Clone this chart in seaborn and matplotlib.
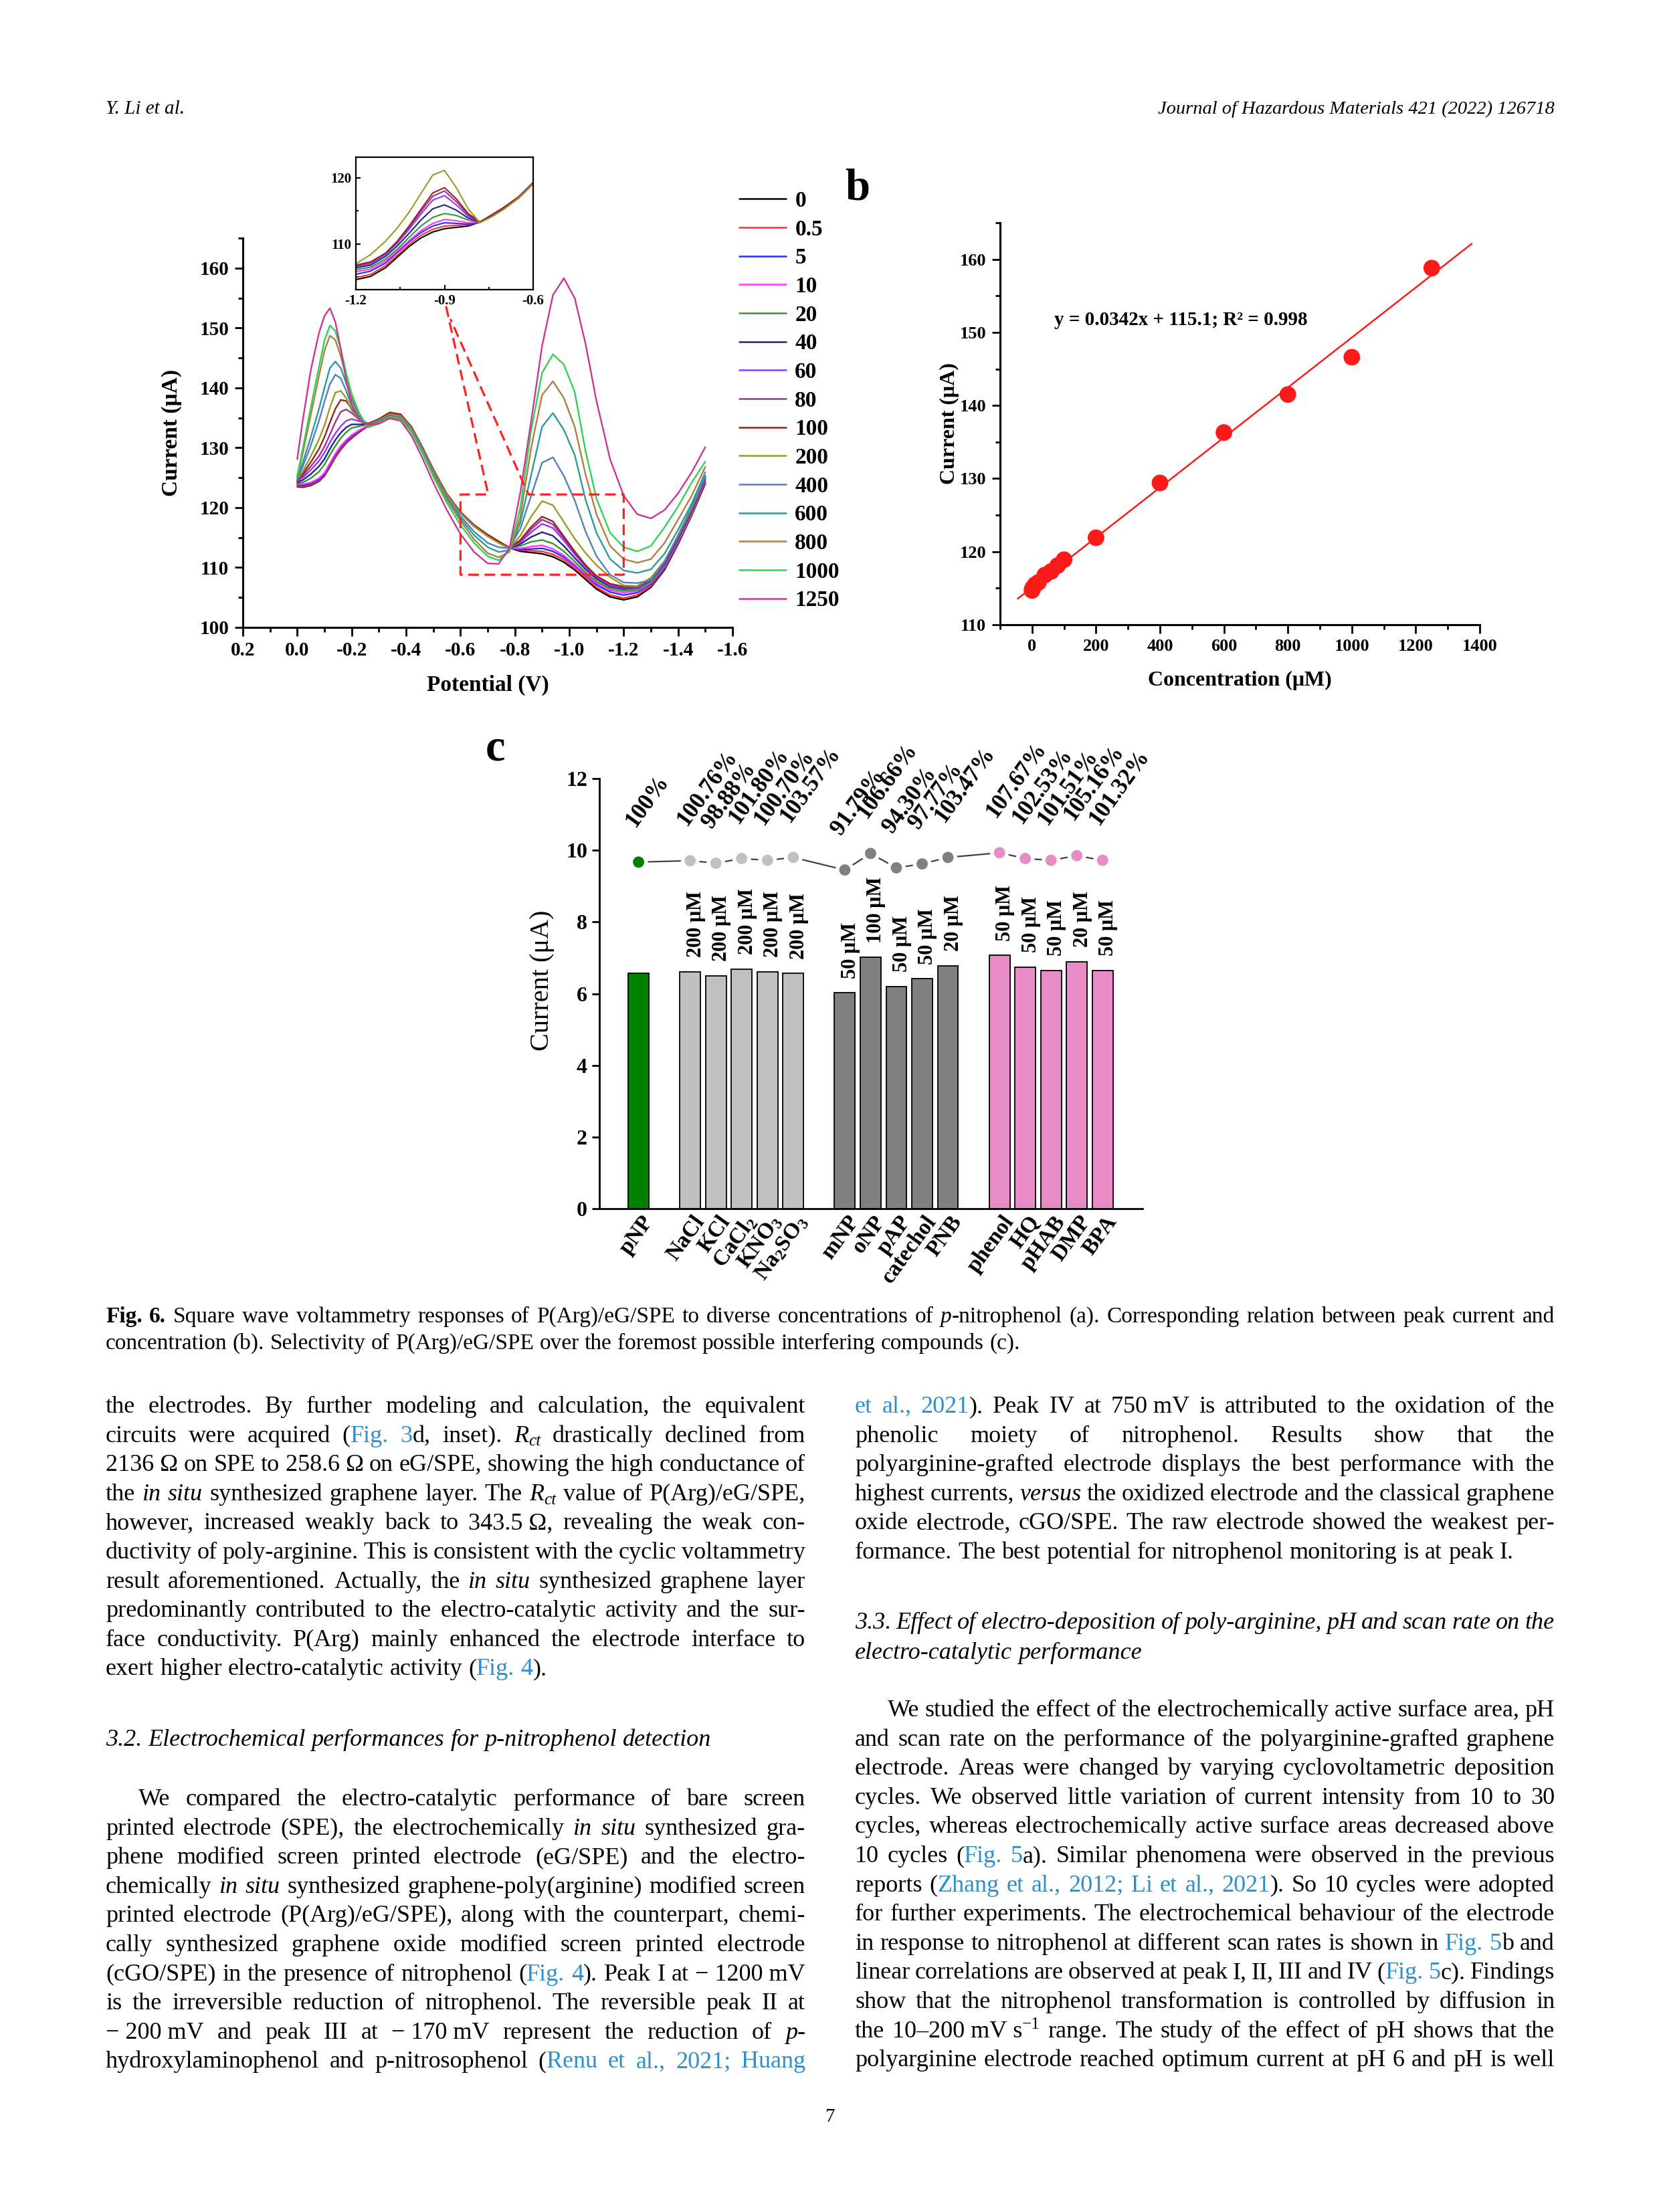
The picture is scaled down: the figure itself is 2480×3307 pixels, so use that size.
import re
import matplotlib
matplotlib.use('Agg')
import matplotlib.pyplot as plt
import matplotlib.transforms as mtransforms
from matplotlib.lines import Line2D
from matplotlib.ticker import MultipleLocator, FixedLocator
import pandas as pd
import seaborn as sns

# ---------------- panel a: SWV curves ----------------
potential = [0.0, -0.02, -0.05, -0.08, -0.10, -0.12, -0.14, -0.16, -0.18, -0.20,
             -0.23, -0.26, -0.30, -0.34, -0.38, -0.42, -0.46, -0.50, -0.55, -0.60,
             -0.65, -0.70, -0.74, -0.78, -0.82, -0.86, -0.90, -0.94, -0.98, -1.02,
             -1.06, -1.10, -1.15, -1.20, -1.25, -1.30, -1.35, -1.40, -1.45, -1.50]

swv_0 = [123.5, 123.4, 123.7, 124.4, 125.3, 126.8, 128.4, 129.7, 130.8, 131.6,
         132.7, 133.6, 134.7, 135.8, 135.5, 133.4, 130.0, 126.3, 122.2, 119.2,
         117.0, 115.4, 114.3, 113.3, 112.7, 112.5, 112.3, 111.8, 110.9, 109.6,
         108.0, 106.4, 105.1, 104.6, 105.1, 106.7, 109.6, 113.9, 118.7, 124.0]
swv_0_5 = [123.6, 123.5, 123.8, 124.5, 125.4, 126.9, 128.5, 129.8, 130.9, 131.7,
           132.8, 133.6, 134.7, 135.7, 135.4, 133.4, 130.0, 126.3, 122.2, 119.2,
           117.0, 115.4, 114.3, 113.3, 112.9, 112.8, 112.7, 112.2, 111.3, 109.9,
           108.3, 106.7, 105.4, 104.9, 105.4, 106.9, 109.8, 114.0, 118.8, 124.1]
swv_5 = [123.8, 123.7, 124.0, 124.7, 125.6, 127.2, 128.8, 130.1, 131.1, 131.9,
         132.9, 133.7, 134.7, 135.7, 135.4, 133.4, 130.0, 126.3, 122.2, 119.2,
         117.0, 115.4, 114.3, 113.3, 113.0, 113.1, 113.2, 112.7, 111.7, 110.3,
         108.7, 107.1, 105.9, 105.4, 105.8, 107.2, 110.0, 114.2, 118.9, 124.3]
swv_10 = [123.9, 123.9, 124.2, 124.9, 125.8, 127.4, 129.0, 130.3, 131.3, 132.1,
          133.0, 133.7, 134.7, 135.7, 135.4, 133.4, 130.0, 126.3, 122.2, 119.2,
          117.0, 115.4, 114.3, 113.3, 113.2, 113.5, 113.7, 113.1, 112.0, 110.5,
          108.9, 107.4, 106.2, 105.8, 106.1, 107.4, 110.2, 114.4, 119.0, 124.5]
swv_20 = [124.0, 124.2, 124.9, 126.0, 127.2, 128.8, 130.3, 131.6, 132.6, 133.3,
          133.6, 133.9, 134.7, 135.6, 135.3, 133.3, 129.9, 126.2, 122.1, 119.1,
          116.9, 115.3, 114.2, 113.3, 113.6, 114.3, 114.6, 114.0, 112.7, 111.0,
          109.2, 107.7, 106.5, 106.1, 106.3, 107.6, 110.4, 114.6, 119.2, 124.7]
swv_40 = [124.2, 124.6, 125.6, 126.9, 128.1, 129.8, 131.3, 132.5, 133.4, 133.9,
          133.9, 134.0, 134.7, 135.6, 135.3, 133.3, 129.9, 126.2, 122.1, 119.1,
          116.9, 115.3, 114.2, 113.3, 113.9, 115.1, 115.9, 115.3, 113.6, 111.6,
          109.7, 108.1, 106.8, 106.4, 106.6, 107.9, 110.6, 114.8, 119.4, 124.8]
swv_60 = [124.4, 125.0, 126.3, 127.8, 129.2, 130.9, 132.4, 133.6, 134.5, 134.8,
          134.4, 134.0, 134.7, 135.6, 135.3, 133.3, 129.9, 126.2, 122.1, 119.1,
          116.9, 115.3, 114.2, 113.3, 114.2, 115.9, 117.3, 116.6, 114.5, 112.2,
          110.1, 108.4, 107.0, 106.6, 106.7, 108.0, 110.7, 114.9, 119.5, 125.0]
swv_80 = [124.5, 125.3, 126.9, 128.6, 130.2, 132.2, 134.3, 136.0, 136.4, 135.8,
          134.6, 134.0, 134.7, 135.6, 135.3, 133.4, 130.0, 126.3, 122.2, 119.2,
          117.0, 115.4, 114.3, 113.3, 114.4, 116.4, 118.0, 117.2, 114.9, 112.5,
          110.3, 108.5, 107.2, 106.7, 106.8, 108.1, 110.8, 115.0, 119.6, 125.1]
swv_100 = [124.6, 125.6, 127.6, 129.8, 131.8, 134.2, 136.5, 138.0, 137.8, 136.5,
           134.8, 134.0, 134.8, 135.9, 135.6, 133.5, 130.1, 126.4, 122.3, 119.3,
           117.1, 115.5, 114.4, 113.3, 114.6, 116.8, 118.5, 117.7, 115.2, 112.7,
           110.4, 108.6, 107.3, 106.8, 106.9, 108.2, 110.9, 115.1, 119.7, 125.2]
swv_200 = [124.7, 126.0, 128.6, 131.4, 133.7, 136.7, 139.2, 139.5, 138.3, 136.3,
           134.6, 133.8, 134.6, 135.6, 135.3, 133.3, 129.9, 126.2, 122.1, 119.1,
           116.9, 115.2, 114.1, 113.2, 115.3, 118.5, 121.1, 120.4, 117.6, 114.8,
           112.4, 110.4, 108.4, 107.0, 106.9, 108.3, 111.1, 115.3, 119.9, 125.2]
swv_400 = [124.8, 126.8, 130.4, 134.5, 137.7, 140.6, 142.2, 141.6, 139.5, 137.0,
           134.8, 133.7, 134.5, 135.4, 135.1, 133.1, 129.8, 126.0, 121.8, 118.6,
           116.0, 114.1, 113.4, 113.2, 116.5, 122.0, 127.5, 128.4, 125.3, 121.2,
           116.0, 111.9, 108.8, 107.5, 107.4, 107.9, 111.0, 115.4, 120.2, 125.3]
swv_600 = [125.0, 127.5, 131.8, 136.5, 140.0, 143.3, 144.4, 143.3, 140.8, 138.0,
           135.2, 133.6, 134.4, 135.3, 135.0, 133.0, 129.6, 125.8, 121.5, 118.2,
           115.4, 113.4, 112.6, 112.9, 117.5, 125.5, 133.5, 135.8, 133.0, 128.8,
           121.3, 115.8, 111.4, 109.5, 109.1, 109.7, 112.3, 116.3, 120.7, 125.9]
swv_800 = [125.2, 129.0, 135.5, 142.0, 146.2, 148.7, 148.0, 145.3, 141.8, 138.5,
           135.5, 133.5, 134.2, 135.2, 134.9, 132.8, 129.4, 125.6, 121.3, 117.8,
           114.7, 112.4, 111.7, 112.6, 118.5, 130.0, 138.8, 141.1, 138.3, 133.5,
           125.5, 118.9, 113.6, 111.4, 110.8, 111.4, 114.1, 118.0, 122.0, 126.8]
swv_1000 = [125.3, 129.8, 136.8, 143.5, 147.9, 150.4, 149.5, 146.5, 142.5, 139.0,
            135.6, 133.4, 134.0, 135.0, 134.7, 132.6, 129.1, 125.2, 120.8, 117.1,
            114.1, 111.9, 111.2, 112.8, 120.0, 133.0, 142.5, 145.6, 143.9, 139.3,
            129.4, 121.5, 115.8, 113.4, 112.7, 113.6, 116.7, 120.2, 124.2, 127.7]
swv_1250 = [128.1, 134.5, 143.0, 149.2, 152.0, 153.3, 151.0, 146.5, 141.2, 137.3,
            134.6, 133.8, 134.0, 134.9, 134.5, 132.0, 128.3, 124.2, 119.6, 115.6,
            112.6, 110.7, 110.6, 113.2, 122.5, 134.5, 147.0, 155.5, 158.3, 155.0,
            147.3, 137.8, 128.1, 122.0, 118.9, 118.2, 119.6, 122.4, 125.9, 130.1]

conc_labels = ['0', '0.5', '5', '10', '20', '40', '60', '80', '100', '200',
               '400', '600', '800', '1000', '1250']
curve_colors = ['#000000', '#ff2a2a', '#2a2aff', '#ff33ff', '#2e9a2e', '#22228f',
                '#9b33ff', '#9a339a', '#962222', '#9a9a22', '#4f80c2', '#2a9a9a',
                '#b07d45', '#33d055', '#cc3399']

# ---------------- panel b: calibration ----------------
conc_b = [0, 0.5, 5, 10, 20, 40, 60, 80, 100, 200, 400, 600, 800, 1000, 1250]
peak_b = [114.7, 114.9, 115.2, 115.5, 115.8, 116.8, 117.3, 118.1, 118.9, 121.9,
          129.4, 136.3, 141.5, 146.6, 158.8]
fit_slope, fit_intercept = 0.0342, 115.1
fit_range = [-45, 1375]

# ---------------- panel c: selectivity ----------------
names_c = ['pNP', 'NaCl', 'KCl', 'CaCl$_2$', 'KNO$_3$', 'Na$_2$SO$_3$',
           'mNP', 'oNP', 'pAP', 'catechol', 'PNB',
           'phenol', 'HQ', 'pHAB', 'DMP', 'BPA']
slot_c = [0, 2, 3, 4, 5, 6, 8, 9, 10, 11, 12, 14, 15, 16, 17, 18]
group_c = ['target'] + ['salt'] * 5 + ['nitro'] * 5 + ['phenolic'] * 5
current_c = [6.56, 6.61, 6.50, 6.69, 6.61, 6.56, 6.02, 7.01, 6.20, 6.42, 6.78,
             7.07, 6.74, 6.65, 6.89, 6.65]
ratio_pt_c = [9.67, 9.71, 9.64, 9.77, 9.72, 9.80, 9.45, 9.91, 9.51, 9.62, 9.80,
              9.93, 9.77, 9.72, 9.85, 9.72]
pct_c = ['100%', '100.76%', '98.88%', '101.80%', '100.70%', '103.57%',
         '91.79%', '106.66%', '94.30%', '97.77%', '103.47%',
         '107.67%', '102.53%', '101.51%', '105.16%', '101.32%']
dose_c = ['', '200 μM', '200 μM', '200 μM', '200 μM', '200 μM',
          '50 μM', '100 μM', '50 μM', '50 μM', '20 μM',
          '50 μM', '50 μM', '50 μM', '20 μM', '50 μM']
group_colors = {'target': '#008000', 'salt': '#c0c0c0', 'nitro': '#808080',
                'phenolic': '#e88cc5'}

# ---------------- page text ----------------
header_left = 'Y. Li et al.'
header_right = 'Journal of Hazardous Materials 421 (2022) 126718'
caption_lines = [
    '#Fig. 6.# Square wave voltammetry responses of P(Arg)/eG/SPE to diverse concentrations of *p*-nitrophenol (a). Corresponding relation between peak current and',
    'concentration (b). Selectivity of P(Arg)/eG/SPE over the foremost possible interfering compounds (c).',
]
left_block = [
    'the electrodes. By further modeling and calculation, the equivalent',
    'circuits were acquired ([Fig. 3]d, inset). *R_{ct}* drastically declined from',
    '2136\u00a0Ω on SPE to 258.6\u00a0Ω on eG/SPE, showing the high conductance of',
    'the *in situ* synthesized graphene layer. The *R_{ct}* value of P(Arg)/eG/SPE,',
    'however, increased weakly back to 343.5\u00a0Ω, revealing the weak con-',
    'ductivity of poly-arginine. This is consistent with the cyclic voltammetry',
    'result aforementioned. Actually, the *in situ* synthesized graphene layer',
    'predominantly contributed to the electro-catalytic activity and the sur-',
    'face conductivity. P(Arg) mainly enhanced the electrode interface to',
    'exert higher electro-catalytic activity ([Fig. 4]).',
]
left_heading = '*3.2. Electrochemical performances for p-nitrophenol detection*'
left_para = [
    'We compared the electro-catalytic performance of bare screen',
    'printed electrode (SPE), the electrochemically *in situ* synthesized gra-',
    'phene modified screen printed electrode (eG/SPE) and the electro-',
    'chemically *in situ* synthesized graphene-poly(arginine) modified screen',
    'printed electrode (P(Arg)/eG/SPE), along with the counterpart, chemi-',
    'cally synthesized graphene oxide modified screen printed electrode',
    '(cGO/SPE) in the presence of nitrophenol ([Fig. 4]). Peak I at −\u00a01200\u00a0mV',
    'is the irreversible reduction of nitrophenol. The reversible peak II at',
    '−\u00a0200\u00a0mV and peak III at −\u00a0170\u00a0mV represent the reduction of *p*-',
    'hydroxylaminophenol and p-nitrosophenol ([Renu et al., 2021; Huang]',
]
right_block = [
    '[et al., 2021]). Peak IV at 750\u00a0mV is attributed to the oxidation of the',
    'phenolic moiety of nitrophenol. Results show that the',
    'polyarginine-grafted electrode displays the best performance with the',
    'highest currents, *versus* the oxidized electrode and the classical graphene',
    'oxide electrode, cGO/SPE. The raw electrode showed the weakest per-',
    'formance. The best potential for nitrophenol monitoring is at peak I.',
]
right_heading = [
    '*3.3. Effect of electro-deposition of poly-arginine, pH and scan rate on the*',
    '*electro-catalytic performance*',
]
right_para = [
    'We studied the effect of the electrochemically active surface area, pH',
    'and scan rate on the performance of the polyarginine-grafted graphene',
    'electrode. Areas were changed by varying cyclovoltametric deposition',
    'cycles. We observed little variation of current intensity from 10 to 30',
    'cycles, whereas electrochemically active surface areas decreased above',
    '10 cycles ([Fig. 5]a). Similar phenomena were observed in the previous',
    'reports ([Zhang et al., 2012; Li et al., 2021]). So 10 cycles were adopted',
    'for further experiments. The electrochemical behaviour of the electrode',
    'in response to nitrophenol at different scan rates is shown in [Fig. 5]b and',
    'linear correlations are observed at peak I, II, III and IV ([Fig. 5]c). Findings',
    'show that the nitrophenol transformation is controlled by diffusion in',
    'the 10–200\u00a0mV\u00a0s^{−1} range. The study of the effect of pH shows that the',
    'polyarginine electrode reached optimum current at pH 6 and pH is well',
]

# ---------------- style ----------------
sns.set_style('ticks', {'axes.edgecolor': 'black', 'xtick.color': 'black',
                        'ytick.color': 'black', 'text.color': 'black',
                        'axes.labelcolor': 'black'})
SERIF = ['Liberation Serif', 'DejaVu Serif']
plt.rcParams['font.family'] = SERIF
plt.rcParams['font.weight'] = 'bold'
plt.rcParams['axes.labelweight'] = 'bold'
plt.rcParams['axes.unicode_minus'] = False
plt.rcParams['mathtext.fontset'] = 'custom'
plt.rcParams['mathtext.rm'] = 'Liberation Serif:bold'
plt.rcParams['mathtext.it'] = 'Liberation Serif:bold:italic'
plt.rcParams['mathtext.bf'] = 'Liberation Serif:bold'

W, H = 2480, 3307
fig = plt.figure(figsize=(W / 100, H / 100), dpi=100)
fig.patch.set_facecolor('white')


def fbox(left, top, right, bottom):
    return [left / W, 1 - bottom / H, (right - left) / W, (bottom - top) / H]


def style_axes(ax, lw=2.2):
    for s in ['top', 'right']:
        ax.spines[s].set_visible(False)
    for s in ['left', 'bottom']:
        ax.spines[s].set_linewidth(lw)


# ---------------- panel a ----------------
ax_a = fig.add_axes(fbox(363, 356, 1095, 938))
curves = [swv_0, swv_0_5, swv_5, swv_10, swv_20, swv_40, swv_60, swv_80, swv_100,
          swv_200, swv_400, swv_600, swv_800, swv_1000, swv_1250]
rows = []
for lab, ys in zip(conc_labels, curves):
    for v, c in zip(potential, ys):
        rows.append((lab, v, c))
df_a = pd.DataFrame(rows, columns=['conc', 'potential', 'current'])
pal_a = dict(zip(conc_labels, curve_colors))

sns.lineplot(data=df_a, x='potential', y='current', hue='conc', hue_order=conc_labels,
             palette=pal_a, estimator=None, sort=False, lw=1.7, legend=False, ax=ax_a)
ax_a.set_xlim(0.2, -1.6)
ax_a.set_ylim(100, 165)
a_xticks = [0.2, 0.0, -0.2, -0.4, -0.6, -0.8, -1.0, -1.2, -1.4, -1.6]
ax_a.xaxis.set_major_locator(FixedLocator(a_xticks))
ax_a.set_xticklabels([f'{v:.1f}' for v in a_xticks])
ax_a.xaxis.set_minor_locator(MultipleLocator(0.1))
ax_a.yaxis.set_major_locator(MultipleLocator(10))
ax_a.yaxis.set_minor_locator(MultipleLocator(5))
ax_a.tick_params(which='major', direction='out', length=9, width=2, labelsize=21, pad=6)
ax_a.tick_params(which='minor', direction='out', length=5, width=2)
style_axes(ax_a)
ax_a.set_xlabel('Potential (V)', fontsize=24)
ax_a.set_ylabel('Current (μA)', fontsize=24)
ax_a.xaxis.set_label_coords(0.5, -0.122)
ax_a.yaxis.set_label_coords(-0.125, 0.5)

# zoom box and connector (dashed red)
zoom_path_x = [-0.547, -0.702, -0.6, -0.6, -1.2, -1.2, -0.85, -0.563]
zoom_path_y = [153.6, 122.2, 122.2, 108.8, 108.8, 122.2, 122.2, 151.5]
ax_a.plot(zoom_path_x, zoom_path_y, color='#ff2020', lw=2.3, ls=(0, (5, 2.6)),
          clip_on=False, zorder=5)

# inset
ax_in = fig.add_axes(fbox(532, 235, 797, 433))
ax_in.set_facecolor('white')
df_in = df_a[df_a['conc'].isin(conc_labels[:10])]
sns.lineplot(data=df_in, x='potential', y='current', hue='conc', hue_order=conc_labels[:10],
             palette=pal_a, estimator=None, sort=False, lw=1.5, legend=False, ax=ax_in)
ax_in.set_xlim(-1.2, -0.6)
ax_in.set_ylim(103.1, 123.1)
in_xticks = [-1.2, -0.9, -0.6]
ax_in.xaxis.set_major_locator(FixedLocator(in_xticks))
ax_in.set_xticklabels([f'{v:.1f}' for v in in_xticks])
ax_in.xaxis.set_minor_locator(FixedLocator([-1.05, -0.75]))
ax_in.yaxis.set_major_locator(FixedLocator([110, 120]))
ax_in.yaxis.set_minor_locator(FixedLocator([105, 115]))
ax_in.tick_params(which='major', direction='in', length=5, width=1.5, labelsize=15, pad=5)
ax_in.tick_params(which='minor', direction='in', length=3, width=1.5)
for s in ax_in.spines.values():
    s.set_linewidth(1.6)
ax_in.set_xlabel('')
ax_in.set_ylabel('')

handles = [Line2D([], [], color=c, lw=1.8) for c in curve_colors]
fig.legend(handles, conc_labels, loc='upper left', bbox_to_anchor=(1105 / W, 1 - 285 / H),
           frameon=False, prop={'family': SERIF, 'size': 24, 'weight': 'bold'},
           handlelength=2.1, handletextpad=0.4, labelspacing=0.35,
           borderpad=0, borderaxespad=0)

# ---------------- panel b ----------------
ax_b = fig.add_axes(fbox(1495, 333, 2212, 934))
sns.scatterplot(x=conc_b, y=peak_b, color='#ff1a1a', s=320, edgecolor='none',
                ax=ax_b, zorder=3)
fit_y = [fit_slope * x + fit_intercept for x in fit_range]
sns.lineplot(x=fit_range, y=fit_y, color='#ff1a1a', lw=1.8, ax=ax_b)
ax_b.set_xlim(-100, 1400)
ax_b.set_ylim(110, 165)
ax_b.xaxis.set_major_locator(MultipleLocator(200))
ax_b.xaxis.set_minor_locator(MultipleLocator(100))
ax_b.yaxis.set_major_locator(MultipleLocator(10))
ax_b.yaxis.set_minor_locator(MultipleLocator(5))
ax_b.tick_params(which='major', direction='out', length=9, width=2, labelsize=19, pad=6)
ax_b.tick_params(which='minor', direction='out', length=5, width=2)
style_axes(ax_b)
ax_b.set_xlabel('Concentration (μM)', fontsize=23)
ax_b.set_ylabel('Current (μA)', fontsize=23)
ax_b.xaxis.set_label_coords(0.5, -0.115)
ax_b.yaxis.set_label_coords(-0.085, 0.5)
ax_b.text(69, 151.7, 'y = 0.0342x + 115.1; R² = 0.998', fontsize=21,
          ha='left', va='center')

# ---------------- panel c ----------------
ax_c = fig.add_axes(fbox(896, 1164, 1708, 1807))
df_c = pd.DataFrame({'slot': slot_c, 'name': names_c, 'group': group_c,
                     'current': current_c, 'ratio': ratio_pt_c})
bar_pal = {n: group_colors[g] for n, g in zip(names_c, group_c)}
sns.barplot(data=df_c, x='slot', y='current', hue='name', palette=bar_pal,
            native_scale=True, saturation=1, edgecolor='black', linewidth=1.3,
            legend=False, ax=ax_c)
sns.lineplot(data=df_c, x='slot', y='ratio', color='#404040', lw=1.6, ax=ax_c, zorder=3)
sns.scatterplot(data=df_c, x='slot', y='ratio', hue='group', palette=group_colors,
                s=260, edgecolor='white', linewidth=4, legend=False, ax=ax_c, zorder=4)
for xs, yv, p in zip(slot_c, ratio_pt_c, pct_c):
    ax_c.text(xs - 0.15, yv + 0.95, p, rotation=54, rotation_mode='anchor',
              ha='left', va='baseline', fontsize=25, clip_on=False)
for xs, yv, d in zip(slot_c, current_c, dose_c):
    if d:
        ax_c.text(xs + 0.22, yv + 0.4, d, rotation=90, ha='center', va='bottom',
                  fontsize=22)
ax_c.set_xlim(-1.52, 19.55)
ax_c.set_ylim(0, 12)
ax_c.xaxis.set_major_locator(FixedLocator(slot_c))
ax_c.set_xticklabels(names_c)
ax_c.yaxis.set_major_locator(MultipleLocator(2))
ax_c.tick_params(axis='y', direction='out', length=8, width=2, labelsize=23, pad=5)
ax_c.tick_params(axis='x', length=0, labelsize=24, pad=10)
offset = mtransforms.ScaledTranslation(0.15, 0, fig.dpi_scale_trans)
for lbl in ax_c.get_xticklabels():
    lbl.set_rotation(54)
    lbl.set_ha('right')
    lbl.set_va('center')
    lbl.set_rotation_mode('anchor')
    lbl.set_transform(lbl.get_transform() + offset)
style_axes(ax_c, lw=2.0)
ax_c.set_xlabel('')
ax_c.set_ylabel('Current (μA)', fontsize=29, fontweight='normal')
ax_c.yaxis.set_label_coords(-0.083, 0.53)

# panel letters
fig.text(1282 / W, 1 - 282 / H, 'b', fontsize=48, ha='center', va='center')
fig.text(740 / W, 1 - 1120 / H, 'c', fontsize=48, ha='center', va='center')

# ---------------- justified page text ----------------
renderer = fig.canvas.get_renderer()
LINK = '#2b8fcb'


def parse(markup):
    toks = re.split(r'(_\{[^}]*\}|\^\{[^}]*\}|\*|\[|\]|#| )', markup)
    words, it, ln, bd = [[]], False, False, False
    for tok in toks:
        if tok == '':
            continue
        if tok == '*':
            it = not it
        elif tok == '#':
            bd = not bd
        elif tok == '[':
            ln = True
        elif tok == ']':
            ln = False
        elif tok == ' ':
            words.append([])
        else:
            kind = 'n'
            if tok.startswith('_{'):
                kind, tok = 'sub', tok[2:-1]
            elif tok.startswith('^{'):
                kind, tok = 'sup', tok[2:-1]
            words[-1].append((tok, it, ln, bd, kind))
    return [w for w in words if w]


def set_line(markup, x0, x1, base, fs, justify=True, indent=0):
    words = parse(markup)
    fs_px = fs * 100 / 72
    placed, widths = [], []
    for w in words:
        items, tot = [], 0
        for txt, it, ln, bd, kind in w:
            size = fs * 0.7 if kind != 'n' else fs
            t = fig.text(0, 0, txt, fontsize=size, family=SERIF,
                         fontstyle='italic' if it else 'normal',
                         fontweight='bold' if bd else 'normal',
                         color=LINK if ln else 'black', ha='left', va='baseline')
            wd = t.get_window_extent(renderer).width
            items.append((t, kind, wd))
            tot += wd
        placed.append(items)
        widths.append(tot)
    avail = x1 - x0 - indent
    gaps = len(words) - 1
    space = 0.25 * fs_px
    if justify and gaps > 0:
        space = (avail - sum(widths)) / gaps
        if space < 0.14 * fs_px:
            for items in placed:
                for t, _, _ in items:
                    t.remove()
            shrink = (avail - gaps * 0.17 * fs_px) / sum(widths)
            return set_line(markup, x0, x1, base, fs * shrink, justify, indent)
    x = x0 + indent
    for items in placed:
        for t, kind, wd in items:
            yb = base
            if kind == 'sub':
                yb = base + 0.16 * fs_px
            elif kind == 'sup':
                yb = base - 0.36 * fs_px
            t.set_position((x / W, 1 - yb / H))
            x += wd
        x += space


BODY = 26
LEAD = 43.6
LX0, LX1, RX0, RX1 = 158, 1204, 1278, 2324
INDENT = 49

fig.text(LX0 / W, 1 - 170 / H, header_left, fontsize=21, style='italic',
         fontweight='normal', ha='left', va='baseline')
fig.text(RX1 / W, 1 - 170 / H, header_right, fontsize=20.5, style='italic',
         fontweight='normal', ha='right', va='baseline')

set_line(caption_lines[0], LX0, RX1, 1977, 24, justify=True)
set_line(caption_lines[1], LX0, RX1, 2017, 24, justify=False)

for k, line in enumerate(left_block):
    set_line(line, LX0, LX1, 2112 + k * LEAD, BODY, justify=k < len(left_block) - 1)
set_line(left_heading, LX0, LX1, 2610, BODY, justify=False)
for k, line in enumerate(left_para):
    set_line(line, LX0, LX1, 2699 + k * LEAD, BODY, justify=True,
             indent=INDENT if k == 0 else 0)

for k, line in enumerate(right_block):
    set_line(line, RX0, RX1, 2112 + k * LEAD, BODY, justify=k < len(right_block) - 1)
set_line(right_heading[0], RX0, RX1, 2435, BODY, justify=True)
set_line(right_heading[1], RX0, RX1, 2480, BODY, justify=False)
for k, line in enumerate(right_para):
    set_line(line, RX0, RX1, 2566 + k * LEAD, BODY, justify=True,
             indent=INDENT if k == 0 else 0)

fig.text(1240 / W, 1 - 3172 / H, '7', fontsize=21, fontweight='normal',
         ha='center', va='baseline')

fig.savefig('out.png', dpi=100, facecolor='white')
